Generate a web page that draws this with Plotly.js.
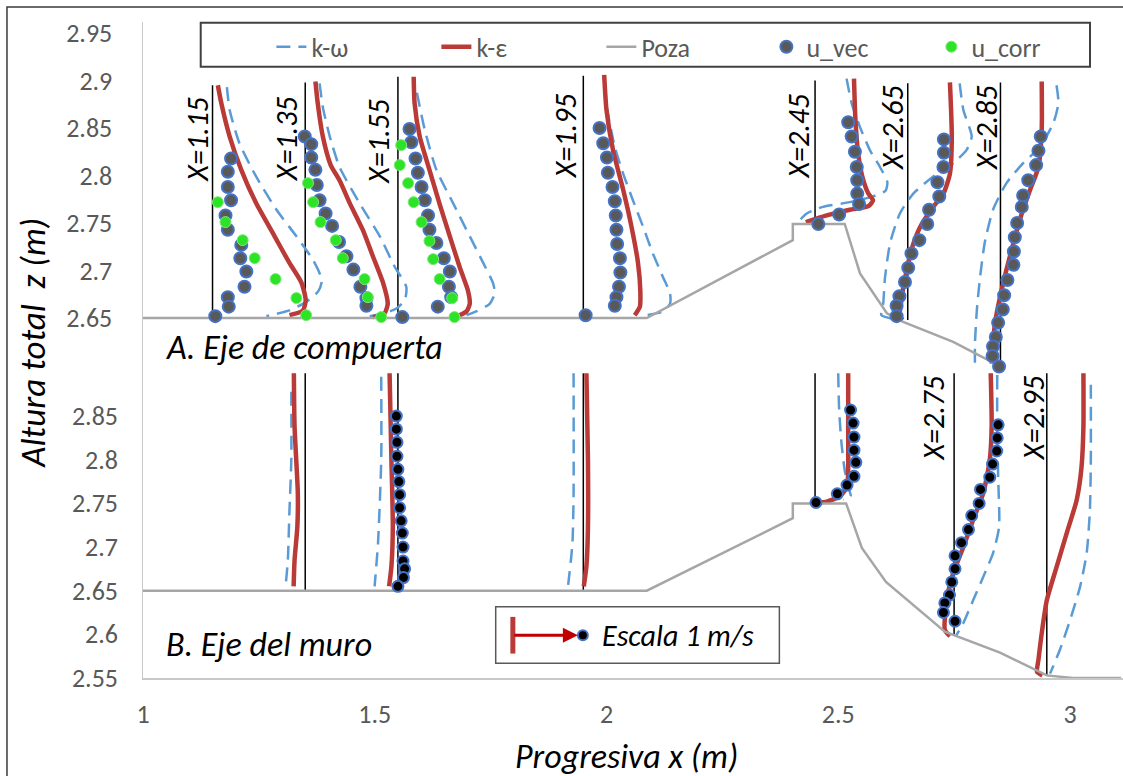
<!DOCTYPE html>
<html><head><meta charset="utf-8">
<script src="https://cdn.plot.ly/plotly-3.0.1.min.js"></script>
<style>html,body{margin:0;padding:0;background:#fff}#chart{width:1123px;height:776px}</style>
</head><body><div id="chart"></div>
<script>
const FONT = 'Carlito, Lato, sans-serif';

// ---------- axis ticks ----------
const xTicks = [1, 1.5, 2, 2.5, 3];
const xTickText = ['1', '1.5', '2', '2.5', '3'];
const zTicksA = [2.65, 2.7, 2.75, 2.8, 2.85, 2.9, 2.95];
const zTickTextA = ['2.65', '2.7', '2.75', '2.8', '2.85', '2.9', '2.95'];
const zTicksB = [2.55, 2.6, 2.65, 2.7, 2.75, 2.8, 2.85];
const zTickTextB = ['2.55', '2.6', '2.65', '2.7', '2.75', '2.8', '2.85'];

// ---------- A. Eje de compuerta : stations ----------
const stationsA = [1.15, 1.35, 1.55, 1.95, 2.45, 2.65, 2.85];
const stationTopA = [2.895, 2.898, 2.904, 2.905, 2.9, 2.897, 2.898];
const stationBaseA = [2.65, 2.65, 2.65, 2.65, 2.75, 2.648, 2.603];
const labelsA = ['X=1.15', 'X=1.35', 'X=1.55', 'X=1.95', 'X=2.45', 'X=2.65', 'X=2.85'];
const labelXA = [1.117, 1.310, 1.508, 1.912, 2.415, 2.616, 2.819];
const labelZA = [2.838, 2.839, 2.836, 2.842, 2.842, 2.850, 2.850];

// ---------- B. Eje del muro : stations ----------
const stationsB = [1.35, 1.55, 1.95, 2.45, 2.75, 2.95];
const stationTopB = [2.899, 2.899, 2.899, 2.899, 2.899, 2.899];
const stationBaseB = [2.65, 2.65, 2.65, 2.751, 2.599, 2.553];
const labelsB = ['X=2.75', 'X=2.95'];
const labelXB = [2.706, 2.921];
const labelZB = [2.848, 2.848];

// ---------- Poza (bed) ----------
const pozaA = [[1,2.65],[2.087,2.65],[2.402,2.732],[2.402,2.749],[2.514,2.749],[2.547,2.697],[2.605,2.655],[2.640,2.646],[2.748,2.625],[2.834,2.603],[2.849,2.598]];
const pozaB = [[1,2.65],[2.087,2.65],[2.402,2.733],[2.402,2.750],[2.517,2.75],[2.551,2.699],[2.603,2.660],[2.730,2.603],[2.849,2.579],[2.950,2.553],[3.006,2.55],[3.11,2.55]];

// ---------- k-ε profiles (plotted x, z) ----------
const keA115 = [[1.1615,2.895],[1.169,2.876],[1.187,2.841],[1.212,2.806],[1.244,2.771],[1.284,2.736],[1.316,2.708],[1.342,2.687],[1.351,2.669],[1.345,2.658],[1.316,2.653]];
const keA135 = [[1.372,2.899],[1.377,2.876],[1.388,2.841],[1.405,2.811],[1.424,2.795],[1.446,2.771],[1.474,2.743],[1.496,2.715],[1.518,2.687],[1.528,2.665],[1.521,2.655],[1.496,2.651]];
const keA155 = [[1.584,2.904],[1.586,2.876],[1.597,2.841],[1.618,2.806],[1.640,2.770],[1.662,2.736],[1.683,2.704],[1.701,2.679],[1.705,2.665],[1.698,2.657],[1.683,2.653]];
const keA195 = [[1.995,2.906],[2.000,2.869],[2.014,2.827],[2.036,2.785],[2.054,2.746],[2.068,2.708],[2.073,2.679],[2.072,2.662],[2.061,2.653]];
const keA245 = [[2.534,2.902],[2.537,2.86],[2.543,2.823],[2.553,2.797],[2.565,2.781],[2.575,2.774],[2.566,2.768],[2.525,2.764],[2.475,2.758],[2.43,2.751]];
const keA265 = [[2.741,2.898],[2.745,2.841],[2.741,2.802],[2.727,2.781],[2.705,2.767],[2.677,2.746],[2.658,2.722],[2.648,2.701],[2.637,2.672],[2.633,2.651],[2.640,2.648]];
const keA285 = [[2.939,2.899],[2.939,2.848],[2.932,2.809],[2.914,2.785],[2.896,2.760],[2.878,2.729],[2.863,2.701],[2.849,2.672],[2.838,2.644],[2.833,2.616],[2.831,2.602]];
const keB135 = [[1.3255,2.899],[1.327,2.838],[1.334,2.762],[1.333,2.723],[1.327,2.685],[1.325,2.655]];
const keB155 = [[1.532,2.899],[1.536,2.800],[1.539,2.723],[1.536,2.678],[1.531,2.655]];
const keB195 = [[1.9567,2.899],[1.960,2.800],[1.960,2.723],[1.9567,2.678],[1.951,2.655]];
const keB245 = [[2.5215,2.899],[2.5215,2.838],[2.5215,2.792],[2.519,2.769],[2.5035,2.758],[2.475,2.752],[2.453,2.751]];
const keB275 = [[2.829,2.899],[2.831,2.838],[2.827,2.800],[2.813,2.762],[2.791,2.731],[2.770,2.700],[2.748,2.670],[2.734,2.639],[2.730,2.605],[2.741,2.598]];
const keB295 = [[3.029,2.899],[3.029,2.838],[3.025,2.792],[3.0145,2.754],[2.993,2.716],[2.971,2.677],[2.950,2.639],[2.939,2.601],[2.932,2.571],[2.929,2.557],[2.9405,2.553]];

// ---------- k-ω profiles ----------
const kwA115 = [[1.181,2.893],[1.187,2.869],[1.208,2.834],[1.244,2.799],[1.288,2.764],[1.331,2.736],[1.367,2.711],[1.386,2.690],[1.378,2.678],[1.352,2.667],[1.316,2.658],[1.266,2.652]];
const kwA135 = [[1.381,2.897],[1.388,2.872],[1.403,2.841],[1.424,2.809],[1.467,2.771],[1.511,2.736],[1.543,2.704],[1.568,2.683],[1.565,2.669],[1.547,2.660],[1.52,2.655],[1.489,2.652]];
const kwA155 = [[1.591,2.887],[1.608,2.848],[1.633,2.806],[1.669,2.771],[1.705,2.736],[1.734,2.708],[1.755,2.687],[1.759,2.676],[1.748,2.665],[1.719,2.657],[1.698,2.653]];
const kwA195 = [[1.996,2.895],[1.998,2.879],[2.018,2.830],[2.036,2.802],[2.057,2.774],[2.079,2.746],[2.100,2.718],[2.122,2.693],[2.137,2.676],[2.137,2.665],[2.122,2.657],[2.086,2.653]];
const kwA245 = [[2.518,2.902],[2.529,2.876],[2.547,2.851],[2.568,2.827],[2.590,2.809],[2.606,2.793],[2.602,2.784],[2.575,2.778],[2.525,2.772],[2.467,2.767],[2.432,2.760],[2.417,2.753]];
const kwA265 = [[2.762,2.897],[2.770,2.869],[2.788,2.841],[2.777,2.827],[2.748,2.813],[2.705,2.799],[2.662,2.781],[2.633,2.760],[2.612,2.729],[2.601,2.693],[2.597,2.665],[2.593,2.653],[2.619,2.649]];
const kwA285 = [[2.971,2.895],[2.975,2.876],[2.964,2.855],[2.935,2.830],[2.899,2.813],[2.863,2.792],[2.834,2.764],[2.816,2.729],[2.806,2.693],[2.799,2.658],[2.795,2.623],[2.795,2.599]];
const kwB135 = [[1.320,2.878],[1.320,2.80],[1.316,2.742],[1.3125,2.685],[1.3076,2.655]];
const kwB155 = [[1.514,2.895],[1.514,2.80],[1.507,2.704],[1.4997,2.655]];
const kwB195 = [[1.929,2.899],[1.929,2.762],[1.9265,2.704],[1.917,2.655]];
const kwB245 = [[2.500,2.899],[2.502,2.857],[2.507,2.819],[2.514,2.788],[2.524,2.765],[2.527,2.758],[2.511,2.754]];
const kwB275 = [[2.843,2.897],[2.843,2.838],[2.845,2.781],[2.847,2.723],[2.834,2.693],[2.813,2.666],[2.791,2.639],[2.770,2.613],[2.755,2.599]];
const kwB295 = [[3.045,2.886],[3.045,2.800],[3.043,2.742],[3.036,2.693],[3.022,2.655],[3.000,2.616],[2.978,2.582],[2.957,2.555]];

// ---------- u_vec measurements ----------
const uvA115 = [[1.190,2.818],[1.183,2.804],[1.183,2.788],[1.190,2.774],[1.178,2.758],[1.183,2.743],[1.212,2.727],[1.210,2.713],[1.223,2.699],[1.219,2.683],[1.183,2.672],[1.185,2.662],[1.156,2.652]];
const uvA135 = [[1.349,2.841],[1.363,2.833],[1.363,2.819],[1.372,2.806],[1.375,2.790],[1.381,2.774],[1.394,2.760],[1.408,2.747],[1.423,2.730],[1.439,2.715],[1.454,2.701],[1.469,2.683],[1.482,2.671],[1.482,2.663]];
const uvA155 = [[1.575,2.849],[1.579,2.835],[1.588,2.818],[1.593,2.803],[1.601,2.788],[1.608,2.774],[1.615,2.758],[1.618,2.743],[1.633,2.729],[1.649,2.713],[1.662,2.699],[1.660,2.683],[1.665,2.672],[1.636,2.662],[1.5595,2.651]];
const uvA195 = [[1.985,2.850],[1.993,2.834],[2.001,2.819],[2.003,2.803],[2.013,2.788],[2.018,2.773],[2.020,2.758],[2.0215,2.743],[2.023,2.728],[2.029,2.713],[2.030,2.698],[2.027,2.683],[2.0215,2.672],[2.018,2.663],[1.955,2.653]];
const uvA245 = [[2.5215,2.856],[2.529,2.841],[2.536,2.825],[2.540,2.809],[2.541,2.795],[2.541,2.781],[2.545,2.770],[2.502,2.759],[2.457,2.749]];
const uvA265 = [[2.728,2.838],[2.728,2.824],[2.727,2.809],[2.714,2.793],[2.718,2.778],[2.696,2.764],[2.692,2.749],[2.675,2.732],[2.658,2.718],[2.651,2.703],[2.644,2.688],[2.632,2.673],[2.626,2.663],[2.626,2.652]];
const uvA285 = [[2.937,2.841],[2.932,2.826],[2.927,2.811],[2.910,2.795],[2.899,2.779],[2.896,2.767],[2.886,2.750],[2.881,2.735],[2.879,2.720],[2.878,2.706],[2.865,2.690],[2.858,2.674],[2.855,2.659],[2.845,2.645],[2.840,2.630],[2.834,2.620],[2.833,2.610],[2.847,2.599]];
const uvB155 = [[1.5466,2.850],[1.5466,2.835],[1.548,2.820],[1.548,2.804],[1.550,2.789],[1.552,2.775],[1.5537,2.760],[1.5537,2.745],[1.557,2.730],[1.5595,2.716],[1.561,2.700],[1.561,2.684],[1.5645,2.675],[1.562,2.665],[1.550,2.655]];
const uvB245 = [[2.5266,2.857],[2.532,2.842],[2.534,2.826],[2.534,2.811],[2.538,2.797],[2.534,2.781],[2.519,2.771],[2.498,2.761],[2.452,2.751]];
const uvB275 = [[2.845,2.840],[2.843,2.825],[2.842,2.810],[2.833,2.795],[2.827,2.780],[2.807,2.766],[2.804,2.750],[2.788,2.736],[2.781,2.720],[2.766,2.705],[2.752,2.690],[2.752,2.675],[2.745,2.660],[2.740,2.645],[2.730,2.636],[2.727,2.625],[2.752,2.615]];

// ---------- u_corr measurements ----------
const ucA115 = [[1.1615,2.772],[1.178,2.751],[1.215,2.732],[1.241,2.713],[1.286,2.691],[1.331,2.671],[1.352,2.653]];
const ucA135 = [[1.356,2.792],[1.367,2.772],[1.383,2.751],[1.416,2.732],[1.431,2.713],[1.478,2.691],[1.485,2.672],[1.514,2.651]];
const ucA155 = [[1.557,2.832],[1.554,2.811],[1.572,2.792],[1.584,2.772],[1.601,2.751],[1.618,2.731],[1.626,2.712],[1.640,2.691],[1.667,2.671],[1.672,2.651]];

// ---------- velocity scale (Escala 1 m/s) ----------
const escalaBox = {x0: 1.761, x1: 2.373, z0: 2.5668, z1: 2.6317};
const escalaStart = [1.798, 2.599];
const escalaEnd = [1.949, 2.599];

// ---------- helpers ----------
function join(list) {
  const x = [], y = [];
  list.forEach((p, i) => {
    if (i) { x.push(null); y.push(null); }
    p.forEach(([a, b]) => { x.push(a); y.push(b); });
  });
  return {x, y};
}
function stationLines(st, top, base) {
  const x = [], y = [];
  st.forEach((s, i) => { x.push(s, s, null); y.push(base[i], top[i], null); });
  return {x, y};
}

const RED = '#B93A36', BLUE = '#5B9BD5', GREEN = '#2CE325', GRAY = '#A6A6A6';
const kwLine = {color: BLUE, width: 2.5, dash: '14px,8px', shape: 'spline', smoothing: 0.6};
const keLine = {color: RED, width: 4.5, shape: 'spline', smoothing: 0.6};

const stA = stationLines(stationsA, stationTopA, stationBaseA);
const stB = stationLines(stationsB, stationTopB, stationBaseB);
const kwA = join([kwA115, kwA135, kwA155, kwA195, kwA245, kwA265, kwA285]);
const kwB = join([kwB135, kwB155, kwB195, kwB245, kwB275, kwB295]);
const keA = join([keA115, keA135, keA155, keA195, keA245, keA265, keA285]);
const keB = join([keB135, keB155, keB195, keB245, keB275, keB295]);
const pzA = join([pozaA]);
const pzB = join([pozaB]);
const uvA = join([uvA115, uvA135, uvA155, uvA195, uvA245, uvA265, uvA285]);
const uvB = join([uvB155, uvB245, uvB275]);
const ucA = join([ucA115, ucA135, ucA155]);

const traces = [
  {x: stA.x, y: stA.y, yaxis: 'y', mode: 'lines', line: {color: '#000', width: 1.5}, showlegend: false, hoverinfo: 'skip'},
  {x: stB.x, y: stB.y, yaxis: 'y2', mode: 'lines', line: {color: '#000', width: 1.5}, showlegend: false, hoverinfo: 'skip'},
  {x: kwA.x, y: kwA.y, yaxis: 'y', mode: 'lines', name: 'k-ω', legendgroup: 'kw', line: kwLine},
  {x: kwB.x, y: kwB.y, yaxis: 'y2', mode: 'lines', name: 'k-ω', legendgroup: 'kw', showlegend: false, line: kwLine},
  {x: keA.x, y: keA.y, yaxis: 'y', mode: 'lines', name: 'k-ε', legendgroup: 'ke', line: keLine},
  {x: keB.x, y: keB.y, yaxis: 'y2', mode: 'lines', name: 'k-ε', legendgroup: 'ke', showlegend: false, line: keLine},
  {x: pzA.x, y: pzA.y, yaxis: 'y', mode: 'lines', name: 'Poza', legendgroup: 'pz', line: {color: GRAY, width: 2.5}},
  {x: pzB.x, y: pzB.y, yaxis: 'y2', mode: 'lines', name: 'Poza', legendgroup: 'pz', showlegend: false, line: {color: GRAY, width: 2.5}},
  {x: uvA.x, y: uvA.y, yaxis: 'y', mode: 'markers', name: 'u_vec', legendgroup: 'uv', marker: {size: 12, color: '#595959', line: {color: '#4472C4', width: 2}}},
  {x: uvB.x, y: uvB.y, yaxis: 'y2', mode: 'markers', name: 'u_vec', legendgroup: 'uv', showlegend: false, marker: {size: 11, color: '#000', line: {color: '#4472C4', width: 2}}},
  {x: ucA.x, y: ucA.y, yaxis: 'y', mode: 'markers', name: 'u_corr', legendgroup: 'uc', marker: {size: 11, color: GREEN, line: {color: '#7FE87A', width: 1}}},
  {x: [escalaEnd[0]], y: [escalaEnd[1]], yaxis: 'y2', mode: 'markers', showlegend: false, hoverinfo: 'skip', marker: {size: 10, color: '#000', line: {color: '#4472C4', width: 2}}}
];

const lblFont = {family: FONT, size: 30, color: '#000', style: 'italic'};
const annotations = [];
labelsA.forEach((t, i) => annotations.push({text: t, x: labelXA[i], y: labelZA[i], xref: 'x', yref: 'y', showarrow: false, textangle: -90, xanchor: 'center', yanchor: 'middle', font: lblFont}));
labelsB.forEach((t, i) => annotations.push({text: t, x: labelXB[i], y: labelZB[i], xref: 'x', yref: 'y2', showarrow: false, textangle: -90, xanchor: 'center', yanchor: 'middle', font: lblFont}));
annotations.push(
  {text: 'A. Eje de compuerta', x: 1.046, y: 2.6185, xref: 'x', yref: 'y', showarrow: false, xanchor: 'left', yanchor: 'middle', font: {family: FONT, size: 34, color: '#000', style: 'italic'}},
  {text: 'B. Eje del muro', x: 1.046, y: 2.588, xref: 'x', yref: 'y2', showarrow: false, xanchor: 'left', yanchor: 'middle', font: {family: FONT, size: 34, color: '#000', style: 'italic'}},
  {text: 'Escala 1 m/s', x: 1.9855, y: escalaEnd[1], xref: 'x', yref: 'y2', showarrow: false, xanchor: 'left', yanchor: 'middle', font: {family: FONT, size: 30, color: '#000', style: 'italic'}},
  {text: '', x: escalaEnd[0], y: escalaEnd[1], ax: escalaStart[0], ay: escalaStart[1], xref: 'x', yref: 'y2', axref: 'x', ayref: 'y2', showarrow: true, arrowhead: 2, arrowsize: 1, arrowwidth: 3, arrowcolor: '#C00000', standoff: 5},
  {text: 'Altura total\u00a0 z (m)', x: -0.112, y: 0.51, xref: 'paper', yref: 'paper', showarrow: false, textangle: -90, xanchor: 'center', yanchor: 'middle', font: {family: FONT, size: 35, color: '#000', style: 'italic'}},
  {text: 'Progresiva x (m)', x: 0.493, y: -0.1204, xref: 'paper', yref: 'paper', showarrow: false, xanchor: 'center', yanchor: 'middle', font: {family: FONT, size: 34, color: '#000', style: 'italic'}}
);

const shapes = [
  // outer chart frame
  {type: 'rect', xref: 'paper', yref: 'paper', x0: -0.1388, x1: 1.2, y0: -0.4, y1: 1.0229, line: {color: '#3A3A3A', width: 1.5}, layer: 'below'},
  // legend box
  {type: 'rect', xref: 'paper', yref: 'paper', x0: (200.7 - 143) / 980, x1: (1090 - 143) / 980, y0: 1 - (66.7 - 22) / 656, y1: 1 - (22.7 - 22) / 656, line: {color: '#404040', width: 2}, fillcolor: '#fff', layer: 'below'},
  // scale box
  {type: 'rect', xref: 'x', yref: 'y2', x0: escalaBox.x0, x1: escalaBox.x1, y0: escalaBox.z0, y1: escalaBox.z1, line: {color: '#595959', width: 1.5}, layer: 'below'},
  {type: 'line', xref: 'x', yref: 'y2', x0: escalaStart[0], x1: escalaStart[0], y0: 2.578, y1: 2.620, line: {color: RED, width: 5}}
];

const tickFont = {family: FONT, size: 26, color: '#595959'};
const layout = {
  width: 1123, height: 776,
  margin: {l: 143, r: 0, t: 22, b: 98, pad: 0},
  paper_bgcolor: '#fff', plot_bgcolor: 'rgba(0,0,0,0)',
  font: {family: FONT, color: '#595959'},
  hovermode: false,
  showlegend: true,
  legend: {orientation: 'h', x: 0.131, y: 0.998, xanchor: 'left', yanchor: 'top', font: {family: FONT, size: 26, color: '#595959'},
           bgcolor: 'rgba(0,0,0,0)', borderwidth: 0, entrywidth: 120, entrywidthmode: 'pixels', traceorder: 'normal'},
  xaxis: {range: [1, 3.1144], tickmode: 'array', tickvals: xTicks, ticktext: xTickText, showgrid: false, zeroline: false,
          showline: true, linecolor: '#C8C8C8', linewidth: 1.5, ticks: '', tickfont: tickFont, ticklabelstandoff: 12},
  yaxis: {range: [2.2711, 2.9616], tickmode: 'array', tickvals: zTicksA, ticktext: zTickTextA, showgrid: false, zeroline: false,
          showline: true, linecolor: '#C8C8C8', linewidth: 1.5, ticks: '', tickfont: tickFont, ticklabelstandoff: 24},
  yaxis2: {overlaying: 'y', side: 'left', anchor: 'x', range: [2.55, 3.3014], tickmode: 'array', tickvals: zTicksB, ticktext: zTickTextB,
           showgrid: false, zeroline: false, showline: false, ticks: '', tickfont: tickFont, ticklabelstandoff: 24},
  shapes: shapes,
  annotations: annotations
};

Plotly.newPlot('chart', traces, layout, {staticPlot: true, displayModeBar: false});
</script></body></html>
